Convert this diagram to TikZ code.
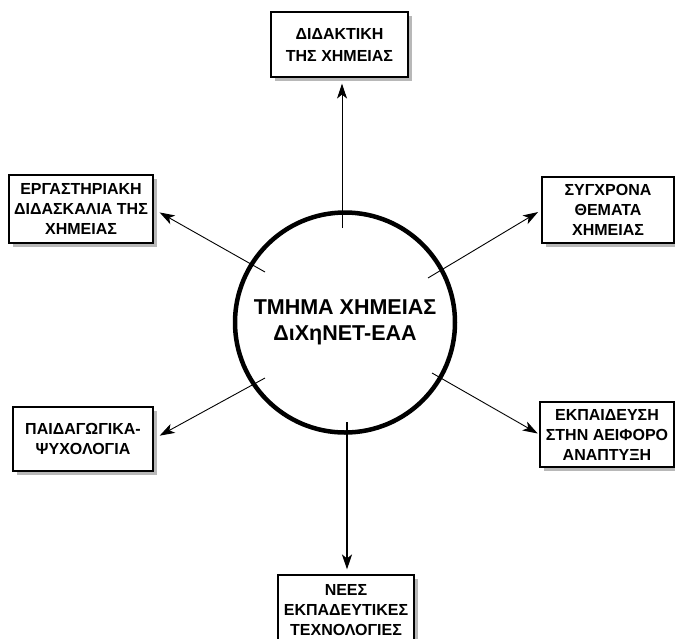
\documentclass[tikz,border=0pt]{standalone}
\usepackage{fontspec}
\setmainfont{Liberation Sans}
\usetikzlibrary{arrows.meta,shadows,calc}
\tikzset{
    hub/.style =    {circle,
                    fill=white,
                    draw=black,
                    text=black,
                    line width=4.5pt,
                    inner sep=0pt,
                    align=center,
                    font=\fontsize{21.5}{26}\selectfont\bfseries,
                    minimum size=220pt},
    topic/.style =  {rectangle,
                    fill=white,
                    draw=black,
                    text=black,
                    line width=1.1pt,
                    inner sep=0pt,
                    align=center,
                    font=\fontsize{16}{20}\selectfont\bfseries,
                    drop shadow={shadow xshift=4pt,
                                 shadow yshift=-4pt,
                                 fill=black!28,
                                 opacity=1}},
    -,
    link/.style =   {line width=0.9pt,
                    shorten >= 6pt},
    >={Stealth[length=15pt,width=10pt,inset=4pt]},
    shorten <= 0pt}

\begin{document}
\begin{tikzpicture}[x=1pt,y=-1pt]
                \useasboundingbox (0,0) rectangle (675,638);
                \node[hub]       (H) at (345,322.5)   {ΤΜΗΜΑ ΧΗΜΕΙΑΣ\\ΔιΧηΝΕΤ-ΕΑΑ};
                \node[topic,minimum width=137pt,minimum height=65pt] (A) at (339.5,44.5) {ΔΙΔΑΚΤΙΚΗ\\[2pt]ΤΗΣ ΧΗΜΕΙΑΣ};
                \node[topic,minimum width=144pt,minimum height=68pt] (B) at (81,209)    {ΕΡΓΑΣΤΗΡΙΑΚΗ\\ΔΙΔΑΣΚΑΛΙΑ ΤΗΣ\\ΧΗΜΕΙΑΣ};
                \node[topic,minimum width=132pt,minimum height=66pt] (C) at (608,210)   {ΣΥΓΧΡΟΝΑ\\ΘΕΜΑΤΑ\\ΧΗΜΕΙΑΣ};
                \node[topic,minimum width=140pt,minimum height=64pt] (D) at (83,439)    {ΠΑΙΔΑΓΩΓΙΚΑ-\\ΨΥΧΟΛΟΓΙΑ};
                \node[topic,minimum width=134pt,minimum height=65pt] (E) at (607,434.5) {ΕΚΠΑΙΔΕΥΣΗ\\ΣΤΗΝ ΑΕΙΦΟΡΟ\\ΑΝΑΠΤΥΞΗ};
                \node[topic,minimum width=136pt,minimum height=70pt] (F) at (346,610)   {ΝΕΕΣ\\ΕΚΠΑΔΕΥΤΙΚΕΣ\\ΤΕΧΝΟΛΟΓΙΕΣ};
                % start points inside the circle
                \coordinate (hA) at (342,228);
                \coordinate (hB) at (265,272);
                \coordinate (hC) at (428,278);
                \coordinate (hD) at (265,378);
                \coordinate (hE) at (432,373);
                \coordinate (hF) at (347,422);
                \path [link,->]  	(hA) edge []             (hA |- A.south)
                                        (hB) edge [shorten >= 7pt] (B.east)
                                        (hC) edge [shorten >= 4pt] (C.west)
                                        (hD) edge [shorten >= 7pt] (D.east)
                                        (hE) edge [shorten >= 2pt] (E.west)
                                        (hF) edge [line width=1.7pt,shorten >= 5pt] (hF |- F.north);
        \end{tikzpicture}
\end{document}
